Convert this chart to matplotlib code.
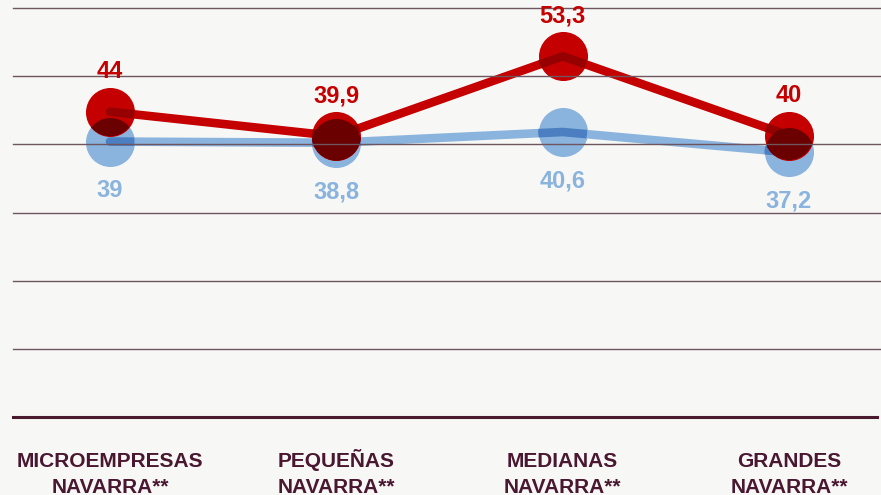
import numpy as np
import matplotlib
matplotlib.use("Agg")
import matplotlib.pyplot as plt
from matplotlib.path import Path
from matplotlib.transforms import IdentityTransform, blended_transform_factory

plt.rcParams['font.family'] = ['Liberation Sans', 'DejaVu Sans']

categories = ['MICROEMPRESAS', 'PEQUEÑAS', 'MEDIANAS', 'GRANDES']
subtitle = 'NAVARRA**'
red_vals = [44, 39.9, 53.3, 40]
blue_vals = [39, 38.8, 40.6, 37.2]
red_labels = ['44', '39,9', '53,3', '40']
blue_labels = ['39', '38,8', '40,6', '37,2']

bg = '#f7f7f5'
red = np.array([196, 0, 0]) / 255
blue = np.array([138, 180, 222]) / 255
grid_c = '#6e5560'
dark = '#4a1730'

fig = plt.figure(figsize=(8.81, 4.95), dpi=100, facecolor=bg)
ax = fig.add_axes([13 / 881, 78 / 495, 868 / 881, 409 / 495])
ax.set_facecolor(bg)
ax.set_xlim(-0.4286, 3.4065)
ax.set_ylim(-7.2, 61.4)
ax.axis('off')

x = np.arange(len(categories))
lw = 6.2
msize = 35.3 ** 2
rad = 24.5

# circles in pixel space, used as clip paths to fake multiply blending
def circle_path(vals):
    pts = ax.transData.transform(np.column_stack([x, vals]))
    return Path.make_compound_path(*[Path.circle(p, rad) for p in pts])

red_clip = circle_path(red_vals)
blue_clip = circle_path(blue_vals)
ident = IdentityTransform()

# blue series
ax.plot(x, blue_vals, color=blue, lw=lw, solid_capstyle='round', zorder=2)
ax.scatter(x, blue_vals, s=msize, color=blue, linewidths=0, zorder=3)
l, = ax.plot(x, blue_vals, color=blue * blue, lw=lw, solid_capstyle='round', zorder=4)
l.set_clip_path(blue_clip, ident)

# red series
ax.plot(x, red_vals, color=red, lw=lw, solid_capstyle='round', zorder=5)
ax.scatter(x, red_vals, s=msize, color=red, linewidths=0, zorder=6)
l, = ax.plot(x, red_vals, color=red * red, lw=lw, solid_capstyle='round', zorder=7)
l.set_clip_path(red_clip, ident)

# overlaps
mix = red * blue
sc = ax.scatter(x, blue_vals, s=msize, color=mix, linewidths=0, zorder=8)
sc.set_clip_path(red_clip, ident)
l, = ax.plot(x, blue_vals, color=mix, lw=lw, solid_capstyle='round', zorder=8)
l.set_clip_path(red_clip, ident)
l, = ax.plot(x, red_vals, color=mix, lw=lw, solid_capstyle='round', zorder=8)
l.set_clip_path(blue_clip, ident)

# grid lines on top
ylo, yhi = ax.get_ylim()
for yv in np.linspace(ylo, yhi, 7)[1:]:
    ax.axhline(yv, color=grid_c, lw=1.0, zorder=10, clip_on=False)
ax.axhline(ylo, xmax=864 / 868, color='#4a1a2e', lw=2.2, zorder=10, clip_on=False)

# value labels
for i in range(len(x)):
    ax.annotate(red_labels[i], (x[i], red_vals[i]), xytext=(0, 24.5), textcoords='offset points',
                ha='center', va='baseline', fontsize=17, fontweight='bold', color=red, zorder=12)
    ax.annotate(blue_labels[i], (x[i], blue_vals[i]), xytext=(0, -40), textcoords='offset points',
                ha='center', va='baseline', fontsize=17, fontweight='bold', color=blue, zorder=12)

# category labels
tr = blended_transform_factory(ax.transData, fig.transFigure)
for i, c in enumerate(categories):
    ax.text(x[i], (495 - 467) / 495, c, transform=tr, ha='center', va='baseline',
            fontsize=15, fontweight='bold', color=dark, clip_on=False)
    ax.text(x[i], (495 - 493) / 495, subtitle, transform=tr, ha='center', va='baseline',
            fontsize=15, fontweight='bold', color=dark, clip_on=False)

fig.savefig('out.png', dpi=100, facecolor=bg)
